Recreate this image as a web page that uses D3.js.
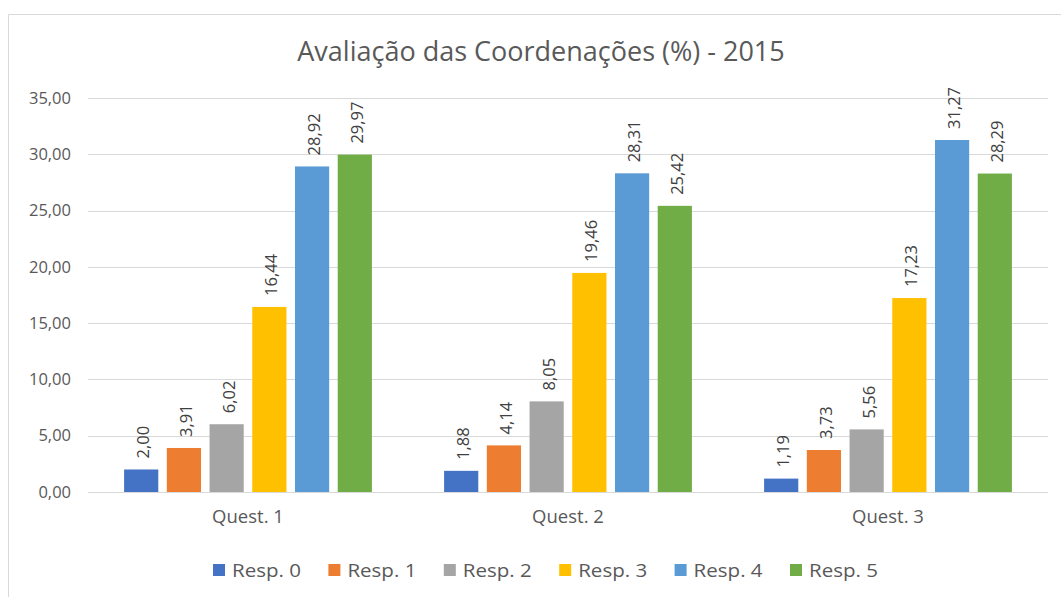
<!DOCTYPE html>
<html lang="pt">
<head>
  <meta charset="UTF-8">
  <title>Avaliação das Coordenações</title>
  <style>
    body { margin: 0; background: #fff; }
    text { font-family: "Open Sans", "Noto Sans", sans-serif; }
  </style>
</head>
<body>
  <svg width="1061" height="597"></svg>
  <script src="https://cdn.jsdelivr.net/npm/d3@7/dist/d3.min.js"></script>
  <script>
    // dados
    var questions = ["Quest. 1", "Quest. 2", "Quest. 3"];
    var responses = ["Resp. 0", "Resp. 1", "Resp. 2", "Resp. 3", "Resp. 4", "Resp. 5"];
    var colors = ["#4472C4", "#ED7D31", "#A5A5A5", "#FFC000", "#5B9BD5", "#70AD47"];
    var quest1 = [2.00, 3.91, 6.02, 16.44, 28.92, 29.97];
    var quest2 = [1.88, 4.14, 8.05, 19.46, 28.31, 25.42];
    var quest3 = [1.19, 3.73, 5.56, 17.23, 31.27, 28.29];
    var yTicks = [0, 5, 10, 15, 20, 25, 30, 35];

    var values = [quest1, quest2, quest3];

    var svg = d3.select("svg");
    var plotLeft = 88, plotRight = 1048, plotTop = 98, plotBottom = 492;

    var pt = d3.formatLocale({ decimal: ",", thousands: ".", grouping: [3], currency: ["R$", ""] });
    var fmt = pt.format(".2f");

    // borda do gráfico
    svg.append("path")
      .attr("d", "M8.5,597 L8.5,14.5 L1061,14.5")
      .attr("fill", "none")
      .attr("stroke", "#d9d9d9")
      .attr("stroke-width", 1);

    var y = d3.scaleLinear().domain([0, 35]).range([plotBottom, plotTop]);
    var x0 = d3.scaleBand().domain(questions).range([plotLeft, plotRight]);
    var x1 = d3.scaleBand().domain(responses).range([0, x0.bandwidth()])
      .paddingInner(0.2).paddingOuter(0.845);

    // título
    svg.append("text")
      .attr("x", 541)
      .attr("y", 61)
      .attr("text-anchor", "middle")
      .attr("fill", "#595959")
      .style("font-size", "27px")
      .text("Avaliação das Coordenações (%) - 2015");

    // grade
    svg.append("g")
      .selectAll("line")
      .data(yTicks)
      .enter()
      .append("line")
      .attr("x1", plotLeft)
      .attr("x2", plotRight)
      .attr("y1", function (d) { return Math.round(y(d)) + 0.5; })
      .attr("y2", function (d) { return Math.round(y(d)) + 0.5; })
      .attr("stroke", "#d9d9d9")
      .attr("stroke-width", 1);

    // eixo y
    var yAxis = svg.append("g")
      .attr("transform", "translate(" + (plotLeft - 17) + ",0)")
      .call(d3.axisLeft(y).tickValues(yTicks).tickFormat(fmt).tickSize(0).tickPadding(0));
    yAxis.select(".domain").remove();
    yAxis.selectAll("text")
      .attr("fill", "#595959")
      .style("font-size", "16.5px")
      .style("font-family", "'Open Sans', sans-serif");

    // eixo x
    var xAxis = svg.append("g")
      .attr("transform", "translate(0," + plotBottom + ")")
      .call(d3.axisBottom(x0).tickSize(0).tickPadding(18));
    xAxis.select(".domain").remove();
    xAxis.selectAll("text")
      .attr("fill", "#595959")
      .style("font-size", "18.5px")
      .style("font-family", "'Open Sans', sans-serif");

    // barras
    var groups = svg.append("g")
      .selectAll("g")
      .data(questions)
      .enter()
      .append("g")
      .attr("transform", function (d) { return "translate(" + x0(d) + ",0)"; });

    groups.selectAll("rect")
      .data(function (d, i) {
        return responses.map(function (r, j) { return { key: r, value: values[i][j], c: colors[j] }; });
      })
      .enter()
      .append("rect")
      .attr("x", function (d) { return x1(d.key); })
      .attr("y", function (d) { return y(d.value); })
      .attr("width", x1.bandwidth())
      .attr("height", function (d) { return plotBottom - y(d.value); })
      .attr("fill", function (d) { return d.c; });

    // rótulos de valor
    groups.selectAll("text.val")
      .data(function (d, i) {
        return responses.map(function (r, j) { return { key: r, value: values[i][j] }; });
      })
      .enter()
      .append("text")
      .attr("class", "val")
      .attr("transform", function (d) {
        return "translate(" + (x1(d.key) + x1.bandwidth() / 2 + 8) + "," + (y(d.value) - 11) + ") rotate(-90)";
      })
      .attr("fill", "#404040")
      .style("font-size", "16.5px")
      .text(function (d) { return fmt(d.value); });

    // legenda
    var legend = svg.append("g")
      .selectAll("g")
      .data(responses)
      .enter()
      .append("g")
      .attr("transform", function (d, i) { return "translate(" + (213 + i * 115.4) + ",564)"; });

    legend.append("rect")
      .attr("width", 12)
      .attr("height", 12)
      .attr("fill", function (d, i) { return colors[i]; });

    legend.append("text")
      .attr("x", 19)
      .attr("y", 13)
      .attr("fill", "#595959")
      .attr("textLength", 69)
      .attr("lengthAdjust", "spacingAndGlyphs")
      .style("font-size", "19px")
      .text(function (d) { return d; });
  </script>
</body>
</html>
